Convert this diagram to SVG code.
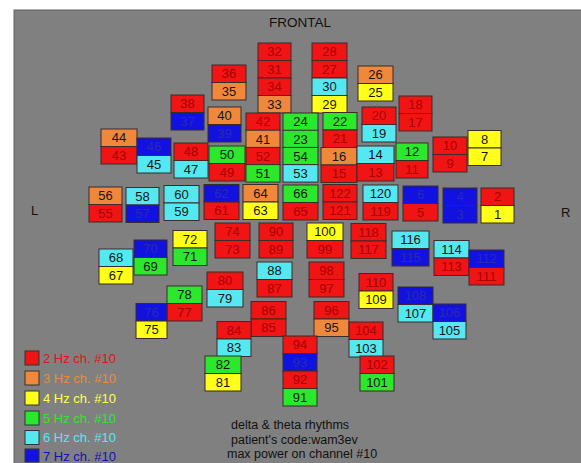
<svg xmlns="http://www.w3.org/2000/svg" width="581" height="463" viewBox="0 0 581 463">
<style>
text{font-family:"Liberation Sans",Arial,sans-serif}
.n rect{stroke:#3b2b2b;stroke-width:1;height:17.5px}
.n text{font-size:13px;text-anchor:middle}
.r rect{fill:#f01414}.r text{fill:#a80000}
.o rect{fill:#f0883c}.o text{fill:#151515}
.y rect{fill:#ffff18}.y text{fill:#151515}
.g rect{fill:#2ce82c}.g text{fill:#151515}
.c rect{fill:#55e8f0}.c text{fill:#151515}
.b rect{fill:#1212e0}.b text{fill:#2a2ab0}
.lg rect{stroke:#333;stroke-width:1}
.lg text{font-size:13px}
.info{font-size:12.5px;fill:#111}
</style>
<rect x="0" y="0" width="581" height="463" fill="#ffffff"/>
<rect x="14" y="10" width="570" height="456" fill="#808080" stroke="#606060" stroke-width="1"/>
<text x="300" y="27" font-size="13.5" text-anchor="middle" fill="#111">FRONTAL</text>
<text x="31" y="215" font-size="13" fill="#111">L</text>
<text x="561" y="217" font-size="13" fill="#111">R</text>
<g id="connectors"/>
<g id="nodes">
<g id="ch32" class="n r"><rect x="258" y="43" width="33"/><text x="274.5" y="56.3">32</text></g>
<g id="ch31" class="n r"><rect x="258" y="60.5" width="33"/><text x="274.5" y="73.8">31</text></g>
<g id="ch34" class="n r"><rect x="258" y="78" width="33"/><text x="274.5" y="91.3">34</text></g>
<g id="ch33" class="n o"><rect x="258" y="95.5" width="33"/><text x="274.5" y="108.8">33</text></g>
<g id="ch28" class="n r"><rect x="312" y="43" width="35"/><text x="329.5" y="56.3">28</text></g>
<g id="ch27" class="n r"><rect x="312" y="60.5" width="35"/><text x="329.5" y="73.8">27</text></g>
<g id="ch30" class="n c"><rect x="312" y="78" width="35"/><text x="329.5" y="91.3">30</text></g>
<g id="ch29" class="n y"><rect x="312" y="95.5" width="35"/><text x="329.5" y="108.8">29</text></g>
<g id="ch36" class="n r"><rect x="212" y="65" width="34"/><text x="229" y="78.3">36</text></g>
<g id="ch35" class="n o"><rect x="212" y="82.5" width="34"/><text x="229" y="95.8">35</text></g>
<g id="ch26" class="n o"><rect x="358" y="66" width="35"/><text x="375.5" y="79.3">26</text></g>
<g id="ch25" class="n y"><rect x="358" y="83.5" width="35"/><text x="375.5" y="96.8">25</text></g>
<g id="ch38" class="n r"><rect x="171" y="95" width="33"/><text x="187.5" y="108.3">38</text></g>
<g id="ch37" class="n b"><rect x="171" y="112.5" width="33"/><text x="187.5" y="125.8">37</text></g>
<g id="ch40" class="n o"><rect x="208" y="107" width="33"/><text x="224.5" y="120.3">40</text></g>
<g id="ch39" class="n b"><rect x="208" y="124.5" width="33"/><text x="224.5" y="137.8">39</text></g>
<g id="ch42" class="n r"><rect x="246" y="113" width="34"/><text x="263" y="126.3">42</text></g>
<g id="ch41" class="n o"><rect x="246" y="130.2" width="34"/><text x="263" y="143.5">41</text></g>
<g id="ch52" class="n r"><rect x="246" y="147.4" width="34"/><text x="263" y="160.7">52</text></g>
<g id="ch51" class="n g"><rect x="246" y="164.6" width="34"/><text x="263" y="177.9">51</text></g>
<g id="ch24" class="n g"><rect x="283" y="113" width="35"/><text x="300.5" y="126.3">24</text></g>
<g id="ch23" class="n g"><rect x="283" y="130.2" width="35"/><text x="300.5" y="143.5">23</text></g>
<g id="ch54" class="n g"><rect x="283" y="147.4" width="35"/><text x="300.5" y="160.7">54</text></g>
<g id="ch53" class="n c"><rect x="283" y="164.6" width="35"/><text x="300.5" y="177.9">53</text></g>
<g id="ch22" class="n g"><rect x="323" y="112.5" width="34"/><text x="340" y="125.8">22</text></g>
<g id="ch21" class="n r"><rect x="323" y="130" width="34"/><text x="340" y="143.3">21</text></g>
<g id="ch16" class="n o"><rect x="321" y="147.5" width="36"/><text x="339" y="160.8">16</text></g>
<g id="ch15" class="n r"><rect x="321" y="165" width="36"/><text x="339" y="178.3">15</text></g>
<g id="ch20" class="n r"><rect x="362" y="107" width="34"/><text x="379" y="120.3">20</text></g>
<g id="ch19" class="n c"><rect x="362" y="124.5" width="34"/><text x="379" y="137.8">19</text></g>
<g id="ch14" class="n c"><rect x="357" y="146" width="37"/><text x="375.5" y="159.3">14</text></g>
<g id="ch13" class="n r"><rect x="357" y="163.5" width="37"/><text x="375.5" y="176.8">13</text></g>
<g id="ch18" class="n r"><rect x="399" y="96" width="33"/><text x="415.5" y="109.3">18</text></g>
<g id="ch17" class="n r"><rect x="399" y="113.5" width="33"/><text x="415.5" y="126.8">17</text></g>
<g id="ch12" class="n g"><rect x="396" y="143" width="32"/><text x="412" y="156.3">12</text></g>
<g id="ch11" class="n r"><rect x="396" y="160.5" width="32"/><text x="412" y="173.8">11</text></g>
<g id="ch10" class="n r"><rect x="433" y="137" width="34"/><text x="450" y="150.3">10</text></g>
<g id="ch9" class="n r"><rect x="433" y="154.5" width="34"/><text x="450" y="167.8">9</text></g>
<g id="ch8" class="n y"><rect x="468" y="130.5" width="33"/><text x="484.5" y="143.8">8</text></g>
<g id="ch7" class="n y"><rect x="468" y="148" width="33"/><text x="484.5" y="161.3">7</text></g>
<g id="ch44" class="n o"><rect x="101" y="129" width="36"/><text x="119" y="142.3">44</text></g>
<g id="ch43" class="n r"><rect x="101" y="146.5" width="36"/><text x="119" y="159.8">43</text></g>
<g id="ch46" class="n b"><rect x="137" y="138" width="34"/><text x="154" y="151.3">46</text></g>
<g id="ch45" class="n c"><rect x="137" y="155.5" width="34"/><text x="154" y="168.8">45</text></g>
<g id="ch48" class="n r"><rect x="174" y="143" width="34"/><text x="191" y="156.3">48</text></g>
<g id="ch47" class="n c"><rect x="174" y="160.5" width="34"/><text x="191" y="173.8">47</text></g>
<g id="ch50" class="n g"><rect x="209" y="146" width="36"/><text x="227" y="159.3">50</text></g>
<g id="ch49" class="n r"><rect x="209" y="163.5" width="36"/><text x="227" y="176.8">49</text></g>
<g id="ch56" class="n o"><rect x="89" y="187" width="33"/><text x="105.5" y="200.3">56</text></g>
<g id="ch55" class="n r"><rect x="89" y="204.5" width="33"/><text x="105.5" y="217.8">55</text></g>
<g id="ch58" class="n c"><rect x="126" y="187.5" width="33"/><text x="142.5" y="200.8">58</text></g>
<g id="ch57" class="n b"><rect x="126" y="205" width="33"/><text x="142.5" y="218.3">57</text></g>
<g id="ch60" class="n c"><rect x="164" y="185.5" width="35"/><text x="181.5" y="198.8">60</text></g>
<g id="ch59" class="n c"><rect x="164" y="203" width="35"/><text x="181.5" y="216.3">59</text></g>
<g id="ch62" class="n b"><rect x="204" y="184.5" width="35"/><text x="221.5" y="197.8">62</text></g>
<g id="ch61" class="n r"><rect x="204" y="202" width="35"/><text x="221.5" y="215.3">61</text></g>
<g id="ch64" class="n o"><rect x="243" y="184.5" width="35"/><text x="260.5" y="197.8">64</text></g>
<g id="ch63" class="n y"><rect x="243" y="202" width="35"/><text x="260.5" y="215.3">63</text></g>
<g id="ch66" class="n g"><rect x="283" y="185" width="35"/><text x="300.5" y="198.3">66</text></g>
<g id="ch65" class="n r"><rect x="283" y="202.5" width="35"/><text x="300.5" y="215.8">65</text></g>
<g id="ch122" class="n r"><rect x="323" y="184.5" width="34"/><text x="340" y="197.8">122</text></g>
<g id="ch121" class="n r"><rect x="323" y="202" width="34"/><text x="340" y="215.3">121</text></g>
<g id="ch120" class="n c"><rect x="363" y="185" width="35"/><text x="380.5" y="198.3">120</text></g>
<g id="ch119" class="n r"><rect x="363" y="202.5" width="35"/><text x="380.5" y="215.8">119</text></g>
<g id="ch6" class="n b"><rect x="403" y="186" width="35"/><text x="420.5" y="199.3">6</text></g>
<g id="ch5" class="n r"><rect x="403" y="203.5" width="35"/><text x="420.5" y="216.8">5</text></g>
<g id="ch4" class="n b"><rect x="443" y="188" width="34"/><text x="460" y="201.3">4</text></g>
<g id="ch3" class="n b"><rect x="443" y="205.5" width="34"/><text x="460" y="218.8">3</text></g>
<g id="ch2" class="n r"><rect x="481" y="188" width="33"/><text x="497.5" y="201.3">2</text></g>
<g id="ch1" class="n y"><rect x="481" y="205.5" width="33"/><text x="497.5" y="218.8">1</text></g>
<g id="ch72" class="n y"><rect x="173" y="230.5" width="34"/><text x="190" y="243.8">72</text></g>
<g id="ch71" class="n g"><rect x="173" y="248" width="34"/><text x="190" y="261.3">71</text></g>
<g id="ch70" class="n b"><rect x="134" y="240" width="33"/><text x="150.5" y="253.3">70</text></g>
<g id="ch69" class="n g"><rect x="134" y="257.5" width="33"/><text x="150.5" y="270.8">69</text></g>
<g id="ch68" class="n c"><rect x="99" y="249" width="34"/><text x="116" y="262.3">68</text></g>
<g id="ch67" class="n y"><rect x="99" y="266.5" width="34"/><text x="116" y="279.8">67</text></g>
<g id="ch74" class="n r"><rect x="215" y="223" width="35"/><text x="232.5" y="236.3">74</text></g>
<g id="ch73" class="n r"><rect x="215" y="240.5" width="35"/><text x="232.5" y="253.8">73</text></g>
<g id="ch90" class="n r"><rect x="259" y="223" width="34"/><text x="276" y="236.3">90</text></g>
<g id="ch89" class="n r"><rect x="259" y="240.5" width="34"/><text x="276" y="253.8">89</text></g>
<g id="ch100" class="n y"><rect x="307" y="223" width="36"/><text x="325" y="236.3">100</text></g>
<g id="ch99" class="n r"><rect x="307" y="240.5" width="36"/><text x="325" y="253.8">99</text></g>
<g id="ch118" class="n r"><rect x="351" y="223.5" width="35"/><text x="368.5" y="236.8">118</text></g>
<g id="ch117" class="n r"><rect x="351" y="241" width="35"/><text x="368.5" y="254.3">117</text></g>
<g id="ch116" class="n c"><rect x="392" y="231" width="37"/><text x="410.5" y="244.3">116</text></g>
<g id="ch115" class="n b"><rect x="392" y="248.5" width="37"/><text x="410.5" y="261.8">115</text></g>
<g id="ch114" class="n c"><rect x="434" y="240.5" width="35"/><text x="451.5" y="253.8">114</text></g>
<g id="ch113" class="n r"><rect x="434" y="258" width="35"/><text x="451.5" y="271.3">113</text></g>
<g id="ch112" class="n b"><rect x="469" y="250" width="35"/><text x="486.5" y="263.3">112</text></g>
<g id="ch111" class="n r"><rect x="469" y="267.5" width="35"/><text x="486.5" y="280.8">111</text></g>
<g id="ch88" class="n c"><rect x="257" y="262" width="35"/><text x="274.5" y="275.3">88</text></g>
<g id="ch87" class="n r"><rect x="257" y="279.5" width="35"/><text x="274.5" y="292.8">87</text></g>
<g id="ch98" class="n r"><rect x="309" y="262" width="35"/><text x="326.5" y="275.3">98</text></g>
<g id="ch97" class="n r"><rect x="309" y="279.5" width="35"/><text x="326.5" y="292.8">97</text></g>
<g id="ch110" class="n r"><rect x="359" y="273.5" width="34"/><text x="376" y="286.8">110</text></g>
<g id="ch109" class="n y"><rect x="359" y="291" width="34"/><text x="376" y="304.3">109</text></g>
<g id="ch108" class="n b"><rect x="398" y="287" width="35"/><text x="415.5" y="300.3">108</text></g>
<g id="ch107" class="n c"><rect x="398" y="304.5" width="35"/><text x="415.5" y="317.8">107</text></g>
<g id="ch106" class="n b"><rect x="433" y="304" width="33"/><text x="449.5" y="317.3">106</text></g>
<g id="ch105" class="n c"><rect x="433" y="321.5" width="33"/><text x="449.5" y="334.8">105</text></g>
<g id="ch80" class="n r"><rect x="207" y="272" width="36"/><text x="225" y="285.3">80</text></g>
<g id="ch79" class="n c"><rect x="207" y="289.5" width="36"/><text x="225" y="302.8">79</text></g>
<g id="ch78" class="n g"><rect x="167" y="286" width="35"/><text x="184.5" y="299.3">78</text></g>
<g id="ch77" class="n r"><rect x="167" y="303.5" width="35"/><text x="184.5" y="316.8">77</text></g>
<g id="ch76" class="n b"><rect x="136" y="303.5" width="31"/><text x="151.5" y="316.8">76</text></g>
<g id="ch75" class="n y"><rect x="136" y="321" width="31"/><text x="151.5" y="334.3">75</text></g>
<g id="ch86" class="n r"><rect x="251" y="301.5" width="35"/><text x="268.5" y="314.8">86</text></g>
<g id="ch85" class="n r"><rect x="251" y="319" width="35"/><text x="268.5" y="332.3">85</text></g>
<g id="ch96" class="n r"><rect x="314" y="301.5" width="35"/><text x="331.5" y="314.8">96</text></g>
<g id="ch95" class="n o"><rect x="314" y="319" width="35"/><text x="331.5" y="332.3">95</text></g>
<g id="ch84" class="n r"><rect x="217" y="321.5" width="34"/><text x="234" y="334.8">84</text></g>
<g id="ch83" class="n c"><rect x="217" y="339" width="34"/><text x="234" y="352.3">83</text></g>
<g id="ch104" class="n r"><rect x="349" y="322" width="34"/><text x="366" y="335.3">104</text></g>
<g id="ch103" class="n c"><rect x="349" y="339.5" width="34"/><text x="366" y="352.8">103</text></g>
<g id="ch82" class="n g"><rect x="205" y="356" width="36"/><text x="223" y="369.3">82</text></g>
<g id="ch81" class="n y"><rect x="205" y="373.5" width="36"/><text x="223" y="386.8">81</text></g>
<g id="ch94" class="n r"><rect x="283" y="336" width="34"/><text x="300" y="349.3">94</text></g>
<g id="ch93" class="n b"><rect x="283" y="353.5" width="34"/><text x="300" y="366.8">93</text></g>
<g id="ch92" class="n r"><rect x="283" y="371" width="34"/><text x="300" y="384.3">92</text></g>
<g id="ch91" class="n g"><rect x="283" y="388.5" width="34"/><text x="300" y="401.8">91</text></g>
<g id="ch102" class="n r"><rect x="360" y="356" width="34"/><text x="377" y="369.3">102</text></g>
<g id="ch101" class="n g"><rect x="360" y="373.5" width="34"/><text x="377" y="386.8">101</text></g>
</g>
<g id="legend" class="lg">
<g id="leg2"><rect x="25" y="351" width="14" height="14" fill="#f01414"/><text x="43" y="362.5" fill="#e01414">2 Hz ch. #10</text></g>
<g id="leg3"><rect x="25" y="371" width="14" height="14" fill="#f0883c"/><text x="43" y="382.5" fill="#f0883c">3 Hz ch. #10</text></g>
<g id="leg4"><rect x="25" y="391" width="14" height="14" fill="#ffff18"/><text x="43" y="402.5" fill="#ffff50">4 Hz ch. #10</text></g>
<g id="leg5"><rect x="25" y="411" width="14" height="14" fill="#2ce82c"/><text x="43" y="422.5" fill="#2ce82c">5 Hz ch. #10</text></g>
<g id="leg6"><rect x="25" y="430.5" width="14" height="14" fill="#55e8f0"/><text x="43" y="442" fill="#55e8f0">6 Hz ch. #10</text></g>
<g id="leg7"><rect x="25" y="449" width="14" height="13" fill="#1212e0"/><text x="43" y="460.5" fill="#1010b8">7 Hz ch. #10</text></g>
</g>
<g id="info">
<text class="info" x="231" y="428.5">delta &amp; theta rhythms</text>
<text class="info" x="231" y="444">patient's code:wam3ev</text>
<text class="info" x="227" y="457.5">max power on channel #10</text>
</g>
</svg>
